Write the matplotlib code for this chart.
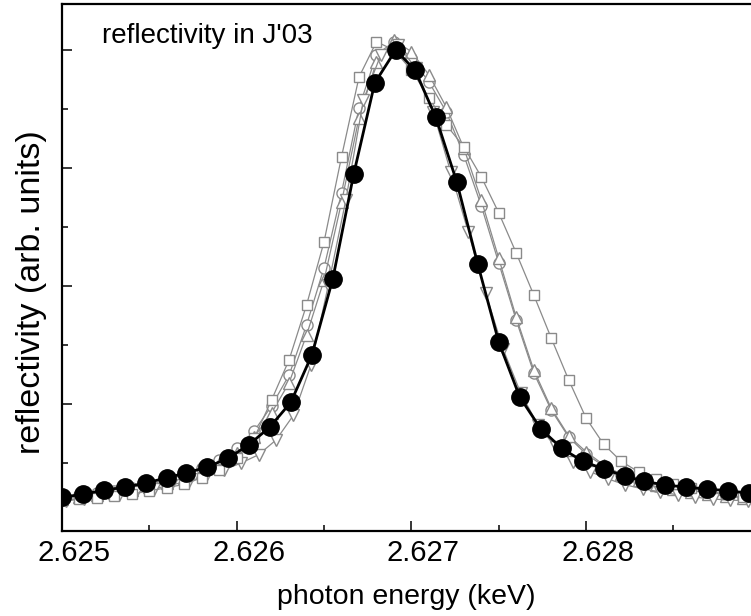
import matplotlib
matplotlib.use('Agg')
import matplotlib.pyplot as plt
import matplotlib.transforms as mtransforms
from matplotlib.ticker import FixedLocator, MultipleLocator, FormatStrFormatter, NullFormatter

plt.rcParams['font.family'] = ['Liberation Sans', 'DejaVu Sans']

# measured spectrum (filled circles)
energy_meas = [2.62500, 2.62512, 2.62524, 2.62536, 2.62548, 2.62560, 2.62571, 2.62583,
               2.62595, 2.62607, 2.62619, 2.62631, 2.62643, 2.62655, 2.62667, 2.62679,
               2.62691, 2.62702, 2.62714, 2.62726, 2.62738, 2.62750, 2.62762, 2.62774,
               2.62786, 2.62798, 2.62810, 2.62822, 2.62833, 2.62845, 2.62857, 2.62869,
               2.62881, 2.62893]
refl_meas = [0.042, 0.047, 0.054, 0.059, 0.066, 0.075, 0.083, 0.093, 0.108, 0.131,
             0.161, 0.203, 0.283, 0.412, 0.590, 0.744, 0.800, 0.766, 0.686, 0.576,
             0.437, 0.305, 0.212, 0.158, 0.125, 0.103, 0.090, 0.078, 0.069, 0.063,
             0.059, 0.056, 0.053, 0.049]

# calculated curves (open grey symbols)
energy_calc = [2.6250, 2.6251, 2.6252, 2.6253, 2.6254, 2.6255, 2.6256, 2.6257, 2.6258, 2.6259,
               2.6260, 2.6261, 2.6262, 2.6263, 2.6264, 2.6265, 2.6266, 2.6267, 2.6268, 2.6269,
               2.6270, 2.6271, 2.6272, 2.6273, 2.6274, 2.6275, 2.6276, 2.6277, 2.6278, 2.6279,
               2.6280, 2.6281, 2.6282, 2.6283, 2.6284, 2.6285, 2.6286, 2.6287, 2.6288, 2.6289]
energy_calc_dn = [2.625025, 2.625125, 2.625225, 2.625325, 2.625425, 2.625525, 2.625625, 2.625725,
                  2.625825, 2.625925, 2.626025, 2.626125, 2.626225, 2.626325, 2.626425, 2.626525,
                  2.626625, 2.626725, 2.626825, 2.626925, 2.627025, 2.627125, 2.627225, 2.627325,
                  2.627425, 2.627525, 2.627625, 2.627725, 2.627825, 2.627925, 2.628025, 2.628125,
                  2.628225, 2.628325, 2.628425, 2.628525, 2.628625, 2.628725, 2.628825, 2.628925]
refl_sq = [0.037, 0.039, 0.041, 0.044, 0.047, 0.053, 0.058, 0.064, 0.075, 0.088,
           0.108, 0.142, 0.207, 0.275, 0.368, 0.475, 0.619, 0.754, 0.814, 0.800,
           0.766, 0.719, 0.673, 0.636, 0.585, 0.524, 0.456, 0.385, 0.312, 0.241,
           0.176, 0.132, 0.103, 0.085, 0.073, 0.064, 0.058, 0.053, 0.047, 0.042]
refl_ci = [0.042, 0.046, 0.049, 0.053, 0.058, 0.064, 0.071, 0.080, 0.092, 0.105,
           0.125, 0.154, 0.197, 0.249, 0.334, 0.431, 0.558, 0.702, 0.792, 0.814,
           0.786, 0.746, 0.695, 0.622, 0.536, 0.439, 0.342, 0.253, 0.190, 0.144,
           0.115, 0.095, 0.080, 0.069, 0.061, 0.056, 0.051, 0.047, 0.044, 0.041]
refl_up = [0.039, 0.042, 0.046, 0.049, 0.054, 0.059, 0.066, 0.075, 0.085, 0.098,
           0.117, 0.144, 0.185, 0.236, 0.317, 0.410, 0.542, 0.685, 0.780, 0.817,
           0.797, 0.758, 0.703, 0.634, 0.546, 0.447, 0.347, 0.258, 0.193, 0.146,
           0.119, 0.097, 0.081, 0.071, 0.063, 0.056, 0.051, 0.047, 0.044, 0.041]
refl_dn = [0.036, 0.039, 0.042, 0.046, 0.051, 0.056, 0.063, 0.069, 0.078, 0.088,
           0.100, 0.114, 0.139, 0.181, 0.266, 0.402, 0.546, 0.715, 0.792, 0.808,
           0.769, 0.695, 0.593, 0.492, 0.388, 0.293, 0.219, 0.164, 0.127, 0.102,
           0.085, 0.073, 0.063, 0.056, 0.051, 0.046, 0.042, 0.039, 0.037, 0.036]

xticks = [2.625, 2.626, 2.627, 2.628]
yticks = [0.2, 0.4, 0.6, 0.8]
yminor = [0.1, 0.3, 0.5, 0.7]

W, H = 751, 616
fig = plt.figure(figsize=(W / 100, H / 100), dpi=100)
ax = fig.add_axes([62 / W, 1 - 531 / H, 1 - 62 / W, (531 - 4) / H])

grey = '#8a8a8a'
kw = dict(color=grey, lw=0.9, mfc='white', mec=grey, mew=1.0)
ax.plot(energy_calc, refl_ci, marker='o', ms=8, **kw)
ax.plot(energy_calc, refl_up, marker='^', ms=9, **kw)
ax.plot(energy_calc_dn, refl_dn, marker='v', ms=9, **kw)
ax.plot(energy_calc, refl_sq, marker='s', ms=7.5, **kw)
ax.plot(energy_meas, refl_meas, color='black', lw=2.0, marker='o', ms=12.5,
        mfc='black', mec='black', zorder=5)

ax.set_xlim(2.625, 2.625 + 689 / 174.7 * 0.001)
ax.set_ylim((522 - 531) / 590, (522 - 4) / 590)

ax.xaxis.set_major_locator(FixedLocator(xticks))
ax.xaxis.set_major_formatter(FormatStrFormatter('%.3f'))
ax.xaxis.set_minor_locator(MultipleLocator(0.0005))
ax.yaxis.set_major_locator(FixedLocator(yticks))
ax.yaxis.set_minor_locator(FixedLocator(yminor))
ax.yaxis.set_major_formatter(NullFormatter())

ax.tick_params(which='both', direction='in', top=False, right=False, width=1.1, labelsize=21)
ax.tick_params(which='major', length=7)
ax.tick_params(which='minor', length=4)
ax.tick_params(axis='x', pad=6)

for side in ['left', 'top', 'bottom']:
    ax.spines[side].set_linewidth(1.6)
ax.spines['right'].set_visible(False)

# tick labels sit a little to the right of their ticks
fig.canvas.draw()
for lab in ax.get_xticklabels():
    lab.set_transform(mtransforms.offset_copy(lab.get_transform(), fig=fig, x=12, y=0, units='dots'))

ax.set_xlabel('photon energy (keV)', fontsize=20.5, labelpad=12)
ax.set_ylabel('reflectivity (arb. units)', fontsize=24.5)
ax.yaxis.set_label_coords(-0.022, 0.453)
ax.text(0.058, 0.926, "reflectivity in J'03", transform=ax.transAxes, fontsize=20,
        ha='left', va='baseline')

fig.savefig('out.png', dpi=100)
